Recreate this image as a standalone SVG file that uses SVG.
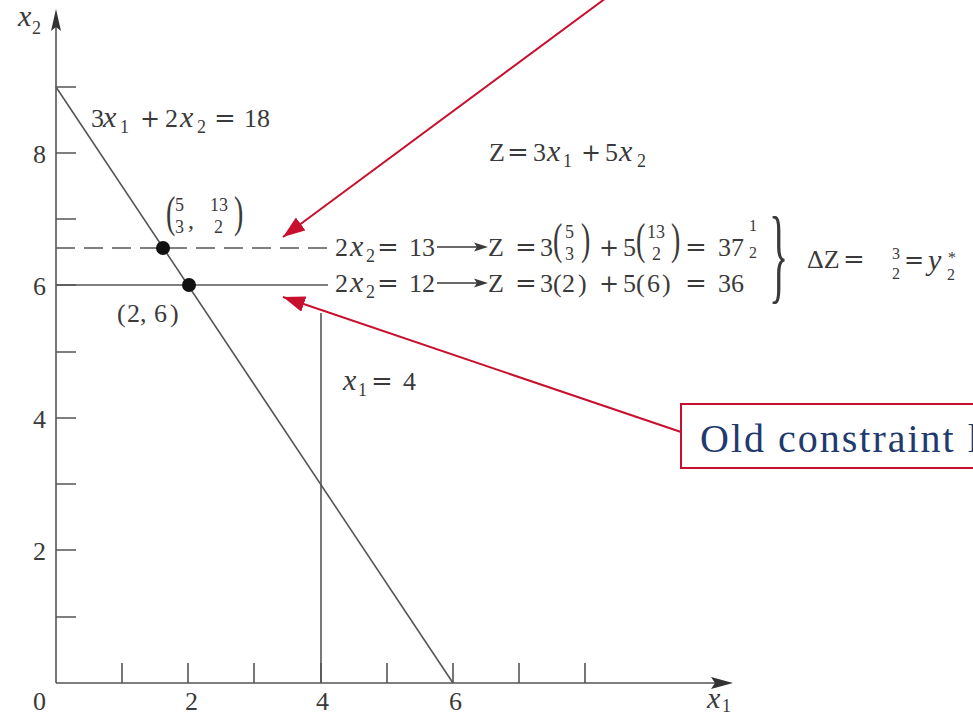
<svg xmlns="http://www.w3.org/2000/svg" width="973" height="716" viewBox="0 0 973 716">
<style>
.t{font-family:"Liberation Serif","Times New Roman",serif;font-size:26px;fill:#3a3a3a}
.i{font-style:italic;font-size:30px}
.s{font-size:18px}
.f{font-size:18px}
.g{font-size:16px}
.o{font-family:"DejaVu Serif",serif;font-size:26px;fill:#3a3a3a}
.p{font-size:24px}
.bp{font-size:28px}
.ax{stroke:#555;stroke-width:1.6;fill:none}
.ln{stroke:#555;stroke-width:1.6;fill:none}
.red{stroke:#c8102e;stroke-width:2;fill:none}
</style>
<defs>
<marker id="rh" markerUnits="userSpaceOnUse" markerWidth="24" markerHeight="16" refX="22" refY="8" orient="auto">
<path d="M0,0 L22,8 L0,16 Z" fill="#c8102e"/>
</marker>
<clipPath id="edge"><rect x="0" y="0" width="973" height="716"/></clipPath>
</defs>
<rect width="973" height="716" fill="#fff"/>

<g id="axes">
<line class="ax" x1="56" y1="683" x2="56" y2="24"/>
<polygon points="56,9 61,31 56,27 51,31" fill="#333"/>
<line class="ax" x1="56" y1="683" x2="718" y2="683"/>
<polygon points="733,683 711,677 715,683 711,689" fill="#333"/>
<path class="ax" d="M56,617H76M56,550H76M56,484H76M56,418H76M56,352H76M56,285H76M56,219H76M56,153H76M56,87H76"/>
<path class="ax" d="M122,683V663M188,683V663M254,683V663M321,683V663M387,683V663M453,683V663M519,683V663M585,683V663"/>
<text class="t"><tspan x="33" y="163">8</tspan><tspan x="33" y="295">6</tspan><tspan x="33" y="428">4</tspan><tspan x="33" y="560">2</tspan><tspan x="33" y="710">0</tspan><tspan x="185" y="710">2</tspan><tspan x="316" y="710">4</tspan><tspan x="449" y="710">6</tspan></text>
<text class="t"><tspan class="i" x="18" y="26">x</tspan><tspan class="s" x="32" y="34">2</tspan></text>
<text class="t"><tspan class="i" x="707" y="708">x</tspan><tspan class="s" x="722" y="712">1</tspan></text>
</g>

<g id="constraint-lines">
<line class="ln" x1="56" y1="87" x2="453" y2="683"/>
<line class="ln" x1="56" y1="248" x2="330" y2="248" stroke-dasharray="19 9" stroke="#888"/>
<line class="ln" x1="56" y1="285" x2="328" y2="285"/>
<line class="ln" x1="321" y1="313" x2="321" y2="683" stroke="#888" stroke-width="2"/>
</g>

<g id="point-a">
<circle cx="163" cy="248" r="7" fill="#111"/>
<text class="t bp" transform="translate(166,227) scale(1,1.55)">(</text>
<text class="t"><tspan class="f" x="175" y="211">5</tspan><tspan class="f" x="175" y="233">3</tspan><tspan class="p" x="188" y="228">,</tspan><tspan class="f" x="210" y="211">13</tspan><tspan class="f" x="214" y="233">2</tspan></text>
<text class="t bp" transform="translate(234,227) scale(1,1.55)">)</text>
</g>
<g id="point-b">
<circle cx="189" cy="285" r="7" fill="#111"/>
<text class="t"><tspan x="117" y="322">(</tspan><tspan x="127" y="322">2</tspan><tspan x="140" y="322">,</tspan><tspan x="154" y="322">6</tspan><tspan x="170" y="322">)</tspan></text>
</g>

<g id="label-constraint">
<text class="t"><tspan x="91" y="127">3</tspan><tspan class="i" x="103" y="127">x</tspan><tspan class="s" x="120" y="133">1</tspan></text>
<text class="o p" x="140" y="127">+</text>
<text class="t"><tspan x="165" y="127">2</tspan><tspan class="i" x="180" y="127">x</tspan><tspan class="s" x="197" y="133">2</tspan></text>
<text class="o" x="214" y="127">=</text>
<text class="t" x="244" y="127">18</text>
</g>

<g id="label-x1-4">
<text class="t"><tspan class="i" x="343" y="390">x</tspan><tspan class="s" x="358" y="396">1</tspan></text>
<text class="o" x="371" y="390">=</text>
<text class="t" x="403" y="390">4</text>
</g>

<g id="label-objective">
<text class="t" x="489" y="161">Z</text>
<text class="o" x="507" y="161">=</text>
<text class="t"><tspan x="533" y="161">3</tspan><tspan class="i" x="547" y="161">x</tspan><tspan class="s" x="563" y="167">1</tspan></text>
<text class="o p" x="581" y="161">+</text>
<text class="t"><tspan x="605" y="161">5</tspan><tspan class="i" x="619" y="161">x</tspan><tspan class="s" x="637" y="167">2</tspan></text>
</g>

<g id="equation-new">
<text class="t"><tspan x="335" y="256">2</tspan><tspan class="i" x="350" y="256">x</tspan><tspan class="s" x="366" y="262">2</tspan></text>
<text class="o" x="377" y="256">=</text>
<text class="t" x="409" y="256">13</text>
<line x1="437" y1="247" x2="478" y2="247" stroke="#3a3a3a" stroke-width="1.6"/>
<polygon points="488,247 474,242.5 477,247 474,251.5" fill="#3a3a3a"/>
<text class="t" x="488" y="256">Z</text>
<text class="o" x="515" y="256">=</text>
<text class="t" x="540" y="256">3</text>
<text class="t bp" transform="translate(553,254) scale(1,1.55)">(</text>
<text class="t"><tspan class="f" x="565" y="238">5</tspan><tspan class="f" x="565" y="260">3</tspan></text>
<text class="t bp" transform="translate(581,254) scale(1,1.55)">)</text>
<text class="o p" x="599" y="256">+</text>
<text class="t" x="623" y="256">5</text>
<text class="t bp" transform="translate(636,254) scale(1,1.55)">(</text>
<text class="t"><tspan class="f" x="647" y="238">13</tspan><tspan class="f" x="652" y="260">2</tspan></text>
<text class="t bp" transform="translate(671,254) scale(1,1.55)">)</text>
<text class="o" x="685" y="256">=</text>
<text class="t"><tspan x="718" y="256">37</tspan><tspan class="g" x="749" y="231">1</tspan><tspan class="g" x="749" y="258">2</tspan></text>
</g>

<g id="equation-old">
<text class="t"><tspan x="335" y="292">2</tspan><tspan class="i" x="350" y="292">x</tspan><tspan class="s" x="366" y="298">2</tspan></text>
<text class="o" x="377" y="292">=</text>
<text class="t" x="409" y="292">12</text>
<line x1="437" y1="283" x2="478" y2="283" stroke="#3a3a3a" stroke-width="1.6"/>
<polygon points="488,283 474,278.5 477,283 474,287.5" fill="#3a3a3a"/>
<text class="t" x="488" y="292">Z</text>
<text class="o" x="515" y="292">=</text>
<text class="t"><tspan x="540" y="292">3</tspan><tspan x="553" y="292">(</tspan><tspan x="562" y="292">2</tspan><tspan x="578" y="292">)</tspan></text>
<text class="o p" x="599" y="292">+</text>
<text class="t"><tspan x="623" y="292">5</tspan><tspan x="636" y="292">(</tspan><tspan x="647" y="292">6</tspan><tspan x="662" y="292">)</tspan></text>
<text class="o" x="685" y="292">=</text>
<text class="t" x="718" y="292">36</text>
</g>

<g id="delta-z">
<text class="t" transform="translate(769,290) scale(1,2.65)" style="font-size:40px">}</text>
<text class="t" x="807" y="268">ΔZ</text>
<text class="o" x="843" y="268">=</text>
<text class="t"><tspan class="g" x="892" y="259">3</tspan><tspan class="g" x="892" y="279">2</tspan></text>
<text class="o p" x="904" y="268">=</text>
<text class="t"><tspan class="i" x="928" y="270">y</tspan><tspan class="g" x="947" y="280">2</tspan><tspan class="g" x="948" y="263">*</tspan></text>
</g>

<g id="callout-old" clip-path="url(#edge)">
<rect x="681" y="404" width="310" height="64" fill="#fff" stroke="#c8102e" stroke-width="2"/>
<text x="700" y="452" font-family="'Liberation Serif',serif" font-size="40" fill="#1f3a6e" letter-spacing="2">Old constraint line</text>
</g>

<g id="connectors">
<line class="red" x1="606" y1="-2" x2="283" y2="237" marker-end="url(#rh)"/>
<line class="red" x1="681" y1="432" x2="283" y2="297" marker-end="url(#rh)"/>
</g>
</svg>
